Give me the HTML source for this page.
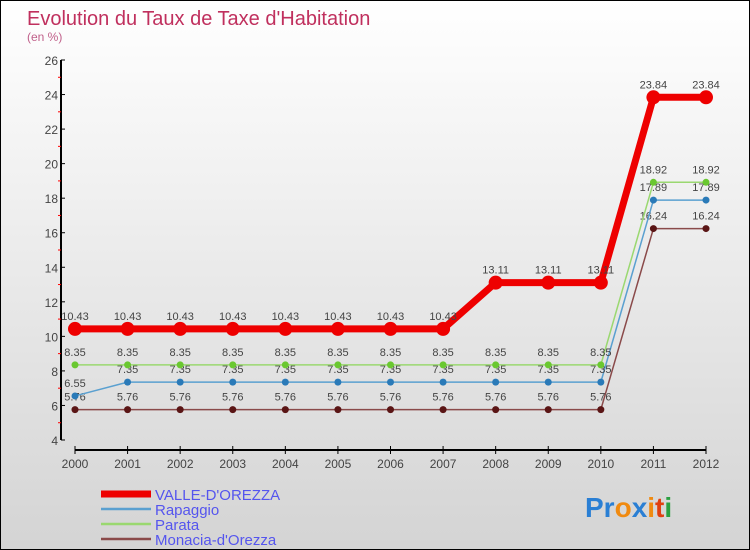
<!DOCTYPE html>
<html><head><meta charset="utf-8"><style>
html,body{margin:0;padding:0}
body{width:750px;height:550px;overflow:hidden;font-family:"Liberation Sans",sans-serif}
#wrap{position:relative;width:748px;height:548px;border:1px solid #000;background:linear-gradient(#fff,#d4d4d4)}
</style></head><body>
<div id="wrap">
<svg id="chart" width="748" height="548" style="position:absolute;left:0;top:0">
<text x="26" y="24" font-size="20" fill="#c0305e">Evolution du Taux de Taxe d'Habitation</text>
<text x="26" y="40" font-size="12" fill="#c0608a">(en %)</text>
<g id="axes"></g>
<g id="series"></g>
<g id="legend"></g>
<text x="584" y="516" font-size="28" font-weight="bold"><tspan fill="#2a7fd4">Pr</tspan><tspan fill="#f08a10">o</tspan><tspan fill="#2a7fd4">x</tspan><tspan fill="#f08a10">i</tspan><tspan fill="#e04010">t</tspan><tspan fill="#2aa040">i</tspan></text>
</svg>
</div>
<script>
const years=[2000,2001,2002,2003,2004,2005,2006,2007,2008,2009,2010,2011,2012];
const yTicks=[4,6,8,10,12,14,16,18,20,22,24,26];
const names=["VALLE-D'OREZZA","Rapaggio","Parata","Monacia-d'Orezza"];
const valle=[10.43,10.43,10.43,10.43,10.43,10.43,10.43,10.43,13.11,13.11,13.11,23.84,23.84];
const rapaggio=[6.55,7.35,7.35,7.35,7.35,7.35,7.35,7.35,7.35,7.35,7.35,17.89,17.89];
const parata=[8.35,8.35,8.35,8.35,8.35,8.35,8.35,8.35,8.35,8.35,8.35,18.92,18.92];
const monacia=[5.76,5.76,5.76,5.76,5.76,5.76,5.76,5.76,5.76,5.76,5.76,16.24,16.24];
const NS="http://www.w3.org/2000/svg";
const X0=74,X1=705,Y0=439,Y1=59,YMIN=4,YMAX=26;
function xS(i){return X0+(X1-X0)*i/(years.length-1);}
function yS(v){return Y0-(v-YMIN)*(Y0-Y1)/(YMAX-YMIN);}
function mk(tag,attrs,parent){const e=document.createElementNS(NS,tag);for(const k in attrs)e.setAttribute(k,attrs[k]);parent.appendChild(e);return e;}
const axes=document.getElementById('axes');
let yl=mk('line',{x1:60,y1:Y1,x2:60,y2:Y0,stroke:'#000','stroke-width':2},axes);


let xl=mk('line',{x1:X0,y1:449,x2:X1,y2:449,stroke:'#000','stroke-width':2},axes);


yTicks.forEach(v=>{
  const y=yS(v);
  mk('line',{x1:60,y1:y,x2:64,y2:y,stroke:'#000','stroke-width':1},axes);
  const t=mk('text',{x:57,y:y+5,'font-size':12,fill:'#444','text-anchor':'end'},axes);
  t.textContent=v;
  
  
  if(v<YMAX){const m=yS(v+1);mk('line',{x1:57,y1:m,x2:60,y2:m,stroke:'#f00','stroke-width':1},axes);}
});
years.forEach((yr,i)=>{
  const x=xS(i);
  mk('line',{x1:x,y1:445,x2:x,y2:453,stroke:'#000','stroke-width':1},axes);
  const t=mk('text',{x:x,y:467,'font-size':12,fill:'#444','text-anchor':'middle'},axes);
  t.textContent=yr;
  
  
});
const series=document.getElementById('series');
const defs=[
 {d:monacia,c:'#8a4a4a',m:'#5a1515',w:1.5,r:3.5,name:'series-monacia'},
 {d:rapaggio,c:'#5aa0d0',m:'#2a7ab8',w:1.5,r:3.5,name:'series-rapaggio'},
 {d:parata,c:'#9ad870',m:'#6ac830',w:1.5,r:3.5,name:'series-parata'},
 {d:valle,c:'#ee0000',m:'#ee0000',w:7,r:7,name:'series-valle'}];
defs.forEach(s=>{
  const g=mk('g',{},series);
  
  
  const pts=s.d.map((v,i)=>xS(i)+','+yS(v)).join(' ');
  mk('polyline',{points:pts,fill:'none',stroke:s.c,'stroke-width':s.w,'stroke-linejoin':'round'},g);
  s.d.forEach((v,i)=>{
    const c=mk('circle',{cx:xS(i),cy:yS(v),r:s.r,fill:s.m},g);
    
    
    const t=mk('text',{x:xS(i),y:yS(v)-9,'font-size':11,fill:'#444','text-anchor':'middle'},g);
    t.textContent=v;
    
    
  });
});
const leg=document.getElementById('legend');
const lc=['#ee0000','#5aa0d0','#9ad870','#8a4a4a'],lw=[7,2.5,2.5,2.5];
names.forEach((n,i)=>{
  const y=493+i*15;
  const g=mk('g',{},leg);
  
  
  mk('line',{x1:100,y1:y,x2:150,y2:y,stroke:lc[i],'stroke-width':lw[i]},g);
  const t=mk('text',{x:154,y:y+6,'font-size':15,fill:'#5555ee'},g);
  t.textContent=n;
});
</script>
</body></html>
